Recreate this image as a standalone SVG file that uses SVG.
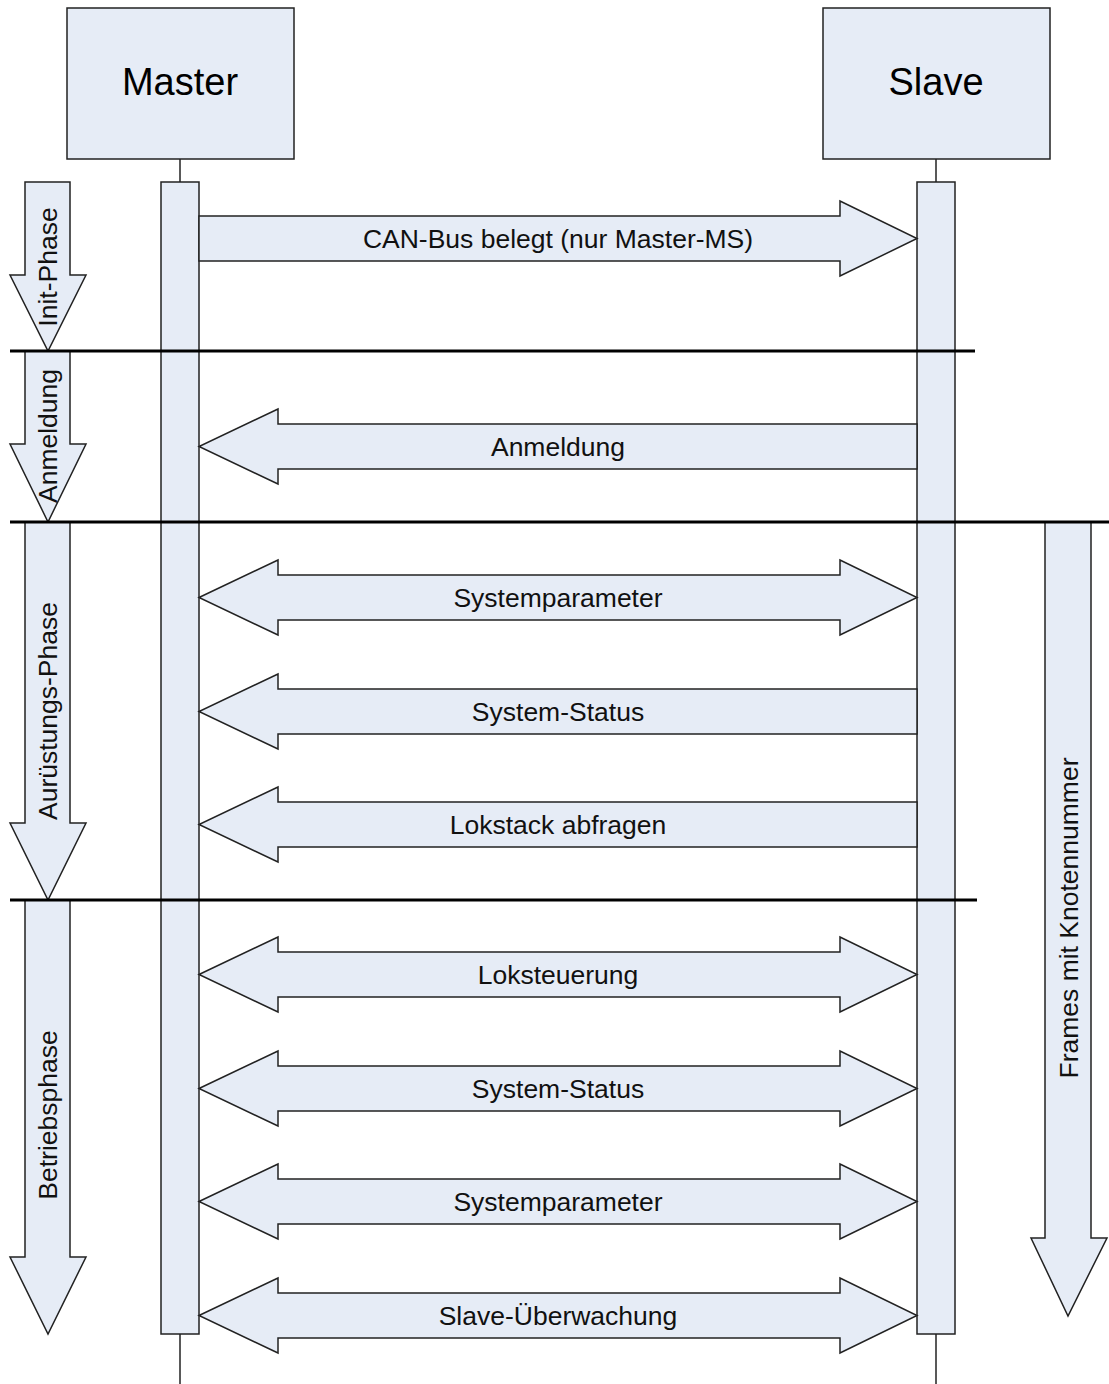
<svg xmlns="http://www.w3.org/2000/svg" width="1109" height="1384" viewBox="0 0 1109 1384">
<style>
.s{fill:#E6ECF6;stroke:#222;stroke-width:1.5;stroke-linejoin:miter}
.life{stroke:#222;stroke-width:1.5;fill:none}
.sep{stroke:#000;stroke-width:3}
.t{font-family:"Liberation Sans",Arial,sans-serif;font-size:26.5px;fill:#111;text-anchor:middle}
.h{font-family:"Liberation Sans",Arial,sans-serif;font-size:38px;fill:#000;text-anchor:middle}
</style>
<rect width="1109" height="1384" fill="#fff"/>
<g id="lifelines">
<line class="life" x1="180" y1="159" x2="180" y2="1384"/>
<line class="life" x1="936" y1="159" x2="936" y2="1384"/>
</g>
<g id="master">
<rect class="s" x="67" y="8" width="227" height="151"/>
<text class="h" x="180" y="95">Master</text>
</g>
<g id="slave">
<rect class="s" x="823" y="8" width="227" height="151"/>
<text class="h" x="936" y="95">Slave</text>
</g>
<g id="master-bar"><rect class="s" x="161" y="182" width="38" height="1152"/></g>
<g id="slave-bar"><rect class="s" x="917" y="182" width="38" height="1152"/></g>
<g id="phase-init">
<polygon class="s" points="25,182 70,182 70,275 86,275 48,351 10,275 25,275"/>
<text class="t" transform="rotate(-90 57 267)" x="57" y="267">Init-Phase</text>
</g>
<g id="phase-anmeldung">
<polygon class="s" points="25,351 70,351 70,444 86,444 48,522 10,444 25,444"/>
<text class="t" transform="rotate(-90 57 436)" x="57" y="436">Anmeldung</text>
</g>
<g id="phase-ausruestung">
<polygon class="s" points="25,522 70,522 70,823 86,823 48,900 10,823 25,823"/>
<text class="t" transform="rotate(-90 57 711)" x="57" y="711">Aurüstungs-Phase</text>
</g>
<g id="phase-betrieb">
<polygon class="s" points="25,900 70,900 70,1257 86,1257 48,1334 10,1257 25,1257"/>
<text class="t" transform="rotate(-90 57 1115)" x="57" y="1115">Betriebsphase</text>
</g>
<g id="frames">
<polygon class="s" points="1045,522 1091,522 1091,1238 1107,1238 1068,1316 1031,1238 1045,1238"/>
<text class="t" transform="rotate(-90 1078 918)" x="1078" y="918">Frames mit Knotennummer</text>
</g>
<g id="connectors">
<polygon class="s" points="199,216 840,216 840,201 917,238.5 840,276 840,261 199,261"/>
<text class="t" x="558" y="248">CAN-Bus belegt (nur Master-MS)</text>
<polygon class="s" points="917,424 278,424 278,409 199,446.5 278,484 278,469 917,469"/>
<text class="t" x="558" y="456">Anmeldung</text>
<polygon class="s" points="199,597.5 278,560 278,575 840,575 840,560 917,597.5 840,635 840,620 278,620 278,635"/>
<text class="t" x="558" y="607">Systemparameter</text>
<polygon class="s" points="917,689 278,689 278,674 199,711.5 278,749 278,734 917,734"/>
<text class="t" x="558" y="721">System-Status</text>
<polygon class="s" points="917,802 278,802 278,787 199,824.5 278,862 278,847 917,847"/>
<text class="t" x="558" y="834">Lokstack abfragen</text>
<polygon class="s" points="199,974.5 278,937 278,952 840,952 840,937 917,974.5 840,1012 840,997 278,997 278,1012"/>
<text class="t" x="558" y="984">Loksteuerung</text>
<polygon class="s" points="199,1088.5 278,1051 278,1066 840,1066 840,1051 917,1088.5 840,1126 840,1111 278,1111 278,1126"/>
<text class="t" x="558" y="1098">System-Status</text>
<polygon class="s" points="199,1201.5 278,1164 278,1179 840,1179 840,1164 917,1201.5 840,1239 840,1224 278,1224 278,1239"/>
<text class="t" x="558" y="1211">Systemparameter</text>
<polygon class="s" points="199,1315.5 278,1278 278,1293 840,1293 840,1278 917,1315.5 840,1353 840,1338 278,1338 278,1353"/>
<text class="t" x="558" y="1325">Slave-Überwachung</text>
</g>
<g id="separators">
<line class="sep" x1="10" y1="351" x2="975" y2="351"/>
<line class="sep" x1="10" y1="522" x2="1109" y2="522"/>
<line class="sep" x1="10" y1="900" x2="977" y2="900"/>
</g>
</svg>
